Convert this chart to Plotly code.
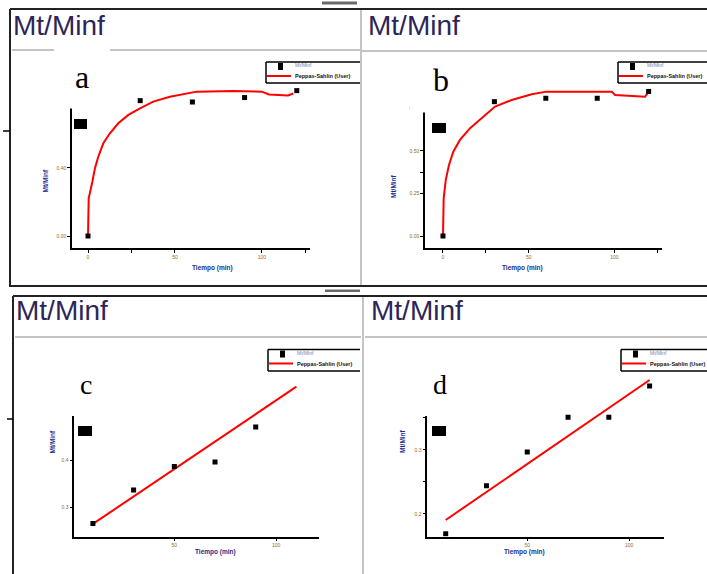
import plotly.graph_objects as go

# ---------------- data ----------------
time_a = [0, 30, 60, 90, 120]
mtminf_a = [0.0, 0.796, 0.788, 0.814, 0.855]
fit_time_a = [0, 0.4, 2.5, 4.0, 5.9, 8.8, 12.6, 17.4, 23.2, 29.9, 37.5, 47.1, 62.5, 83.5, 100, 104, 115, 118]
fit_a = [0, 0.222, 0.319, 0.398, 0.466, 0.545, 0.604, 0.663, 0.712, 0.751, 0.79, 0.819, 0.849, 0.853, 0.849, 0.832, 0.826, 0.838]

time_b = [0, 30, 60, 90, 120]
mtminf_b = [0.0, 0.79, 0.81, 0.81, 0.85]
fit_time_b = [0, 0.4, 1.6, 3.5, 6.0, 9.9, 15.8, 22.6, 30.4, 40.1, 51.8, 60.5, 98.5, 100.4, 112.1, 117.9, 119.3]
fit_b = [0, 0.222, 0.329, 0.418, 0.496, 0.565, 0.634, 0.692, 0.761, 0.80, 0.834, 0.849, 0.849, 0.829, 0.824, 0.819, 0.839]

time_c = [10, 30, 50, 70, 90]
mtminf_c = [0.265, 0.336, 0.386, 0.396, 0.470]
fit_time_c = [10, 110]
fit_c = [0.264, 0.556]

time_d = [10, 30, 50, 70, 90, 110]
mtminf_d = [0.169, 0.244, 0.297, 0.351, 0.351, 0.40]
fit_time_d = [10, 110]
fit_d = [0.1906, 0.4094]

xticks_ab = [0, 50, 100]
xticks_cd = [50, 100]
yticks_a = [0.0, 0.4, 0.8]
yticklabels_a = ["0.00", "0.40", "0.80"]
yticks_b = [0.0, 0.25, 0.5, 0.75]
yticklabels_b = ["0.00", "0.25", "0.50", "0.75"]
yticks_c = [0.3, 0.4, 0.5, 0.6]
yticklabels_c = ["0.3", "0.4", "0.5", "0.6"]
yticks_d = [0.2, 0.3, 0.4]
yticklabels_d = ["0.2", "0.3", "0.4"]

panel_letters = ["a", "b", "c", "d"]
header_text = "Mt/Minf"
xlabel = "Tiempo (min)"
ylabel = "Mt/Minf"
legend_data = "Mt/Minf"
legend_fit = "Peppas-Sahlin (User)"

# ---------------- layout helpers ----------------
W, H = 707, 574


def fx(p):
    return p / W


def fy(p):
    return 1 - p / H


TICKC = "#93661f"
TITLEC = "#1c2c8c"
HEADC = "#2c2558"

fig = go.Figure()

panels = [
    dict(ax="", box=(72, 310, 85, 248), xr=(-9.2, 127.6), yr=(-0.0706, 0.888),
         t=time_a, v=mtminf_a, ft=fit_time_a, fv=fit_a,
         xt=xticks_ab, xminor=[25, 125], yt=yticks_a, ytl=yticklabels_a, yminor=None),
    dict(ax="2", box=(425, 662, 85, 248), xr=(-10.5, 127.8), yr=(-0.0706, 0.888),
         t=time_b, v=mtminf_b, ft=fit_time_b, fv=fit_b,
         xt=xticks_ab, xminor=[25, 125], yt=yticks_b, ytl=yticklabels_b, yminor=[0.375]),
    dict(ax="3", box=(74.3, 319, 360, 536.7), xr=(0.85, 121.1), yr=(0.2368, 0.6128),
         t=time_c, v=mtminf_c, ft=fit_time_c, fv=fit_c,
         xt=xticks_cd, xminor=None, yt=yticks_c, ytl=yticklabels_c, yminor=None),
    dict(ax="4", box=(427.3, 664.3, 360, 536.7), xr=(0.98, 117.2), yr=(0.1645, 0.4406),
         t=time_d, v=mtminf_d, ft=fit_time_d, fv=fit_d,
         xt=xticks_cd, xminor=None, yt=yticks_d, ytl=yticklabels_d, yminor=[0.25, 0.35]),
]

for p in panels:
    xa = "x" + p["ax"]
    ya = "y" + p["ax"]
    fig.add_trace(go.Scatter(x=p["ft"], y=p["fv"], mode="lines",
                             line=dict(color="#ff0000", width=2),
                             xaxis=xa, yaxis=ya, showlegend=False, hoverinfo="skip"))
    fig.add_trace(go.Scatter(x=p["t"], y=p["v"], mode="markers",
                             marker=dict(symbol="square", size=5, color="black"),
                             xaxis=xa, yaxis=ya, showlegend=False, cliponaxis=True))
    x0, x1, ytop, ybot = p["box"]
    common = dict(showline=True, linecolor="black", linewidth=1.5, ticks="outside",
                  ticklen=3, tickwidth=1, tickcolor="black", showgrid=False,
                  zeroline=False, tickfont=dict(family="Liberation Sans", size=5, color=TICKC))
    xdict = dict(common, domain=[fx(x0), fx(x1)], range=list(p["xr"]), anchor=ya,
                 tickmode="array", tickvals=p["xt"], ticktext=[str(v) for v in p["xt"]])
    if p["xminor"]:
        xdict["minor"] = dict(tickmode="array", tickvals=p["xminor"], ticks="outside",
                              ticklen=3, tickcolor="black", tickwidth=1, showgrid=False)
    ydict = dict(common, domain=[fy(ybot), fy(ytop)], range=list(p["yr"]), anchor=xa,
                 tickmode="array", tickvals=p["yt"], ticktext=p["ytl"])
    if p["yminor"]:
        ydict["minor"] = dict(tickmode="array", tickvals=p["yminor"], ticks="outside",
                              ticklen=3, tickcolor="black", tickwidth=1, showgrid=False)
    key = p["ax"]
    fig.update_layout(**{"xaxis" + key: xdict, "yaxis" + key: ydict})

shapes = []


def line(x0, y0, x1, y1, color="black", width=2):
    shapes.append(dict(type="line", xref="paper", yref="paper", x0=fx(x0), y0=fy(y0),
                       x1=fx(x1), y1=fy(y1), line=dict(color=color, width=width), layer="above"))


def rect(x0, y0, x1, y1, fill, lc=None, lw=0):
    shapes.append(dict(type="rect", xref="paper", yref="paper", x0=fx(x0), y0=fy(y0),
                       x1=fx(x1), y1=fy(y1), fillcolor=fill,
                       line=dict(color=lc or fill, width=lw), layer="above"))


# frames
GRAY = "#c4c4c4"
line(10, 9, 707, 9, "#222", 2)
line(10, 9, 10, 287, "#222", 2)
line(10, 286, 707, 286, "#222", 2)
line(13, 296, 707, 296, "#222", 2)
line(13, 296, 13, 574, "#222", 2)
line(361, 10, 361, 285, GRAY, 2)
line(363, 297, 363, 574, GRAY, 2)
# header separators
line(12, 50, 360, 50, GRAY, 2)
line(362, 51, 707, 51, GRAY, 2)
line(15, 337, 361, 337, GRAY, 2)
line(365, 337, 707, 337, GRAY, 2)
# small gray handle bars
rect(322, 1.5, 357, 4.5, "#6a6a6a")
rect(325, 289.5, 360, 292, "#6a6a6a")
# left edge tick marks
line(3, 131, 10, 131, "black", 1.5)
line(7, 419, 13, 419, "black", 1.5)

# white patches behind letters
rect(54, 48, 110, 108.5, "white")
rect(410, 53, 470, 112.5, "white")
rect(59, 340, 115, 416, "white")
rect(411, 340, 470, 416, "white")
# black blocks
rect(74, 119, 87, 129, "black")
rect(432, 123, 446, 133, "black")
rect(78, 426, 92, 436, "black")
rect(432, 426, 446, 436, "black")

# legends (top, left, bottom borders; right side clipped)
legends = [(266, 360, 62, 83), (618, 707, 62, 83), (268, 360, 349.5, 371), (621, 707, 349.5, 371)]
annotations = []
for (lx0, lx1, lyt, lyb) in legends:
    rect(lx0, lyt, lx1, lyb, "white")
    line(lx0, lyt, lx1, lyt, "black", 1.5)
    line(lx0, lyt, lx0, lyb, "black", 1.5)
    line(lx0, lyb, lx1, lyb, "black", 1.5)
    rect(lx0 + 12, lyt + 1, lx0 + 17, lyt + 8, "black")
    line(lx0 + 1, lyt + 14, lx0 + 25, lyt + 14, "#ff0000", 2)
    annotations.append(dict(x=fx(lx0 + 27), y=fy(lyt + 3), xref="paper", yref="paper",
                            text=legend_data, showarrow=False, xanchor="left", yanchor="middle",
                            font=dict(family="Liberation Sans", size=5, color="#7585b5")))
    annotations.append(dict(x=fx(lx0 + 27), y=fy(lyt + 14), xref="paper", yref="paper",
                            text="<b>" + legend_fit + "</b>", showarrow=False, xanchor="left",
                            yanchor="middle",
                            font=dict(family="Liberation Sans", size=5.5, color="#111")))

# headers
for (hx, hy) in [(11, 26), (366, 26), (14, 310), (369, 310)]:
    annotations.append(dict(x=fx(hx), y=fy(hy), xref="paper", yref="paper", text=header_text,
                            showarrow=False, xanchor="left", yanchor="middle",
                            font=dict(family="Liberation Sans", size=28, color=HEADC)))

# panel letters
for letter, (lx, ly, ls) in zip(panel_letters, [(81.5, 77, 32), (440.5, 80, 32), (85.5, 384, 28), (440, 384, 28)]):
    annotations.append(dict(x=fx(lx), y=fy(ly), xref="paper", yref="paper", text=letter,
                            showarrow=False, xanchor="center", yanchor="middle",
                            font=dict(family="Liberation Serif", size=ls, color="black")))

# axis titles
for (xx, xy) in [(190, 268), (545, 268), (193, 558), (547, 558)]:
    annotations.append(dict(x=fx(xx), y=fy(xy), xref="paper", yref="paper",
                            text="<b>" + xlabel + "</b>", showarrow=False,
                            font=dict(family="Liberation Sans", size=6.5, color=TITLEC)))
for (yx, yy) in [(40, 167), (393, 172), (46, 456), (402, 455)]:
    annotations.append(dict(x=fx(yx), y=fy(yy), xref="paper", yref="paper",
                            text="<b>" + ylabel + "</b>", showarrow=False, textangle=-90,
                            font=dict(family="Liberation Sans", size=6.5, color=TITLEC)))

fig.update_layout(width=W, height=H, margin=dict(l=0, r=0, t=0, b=0),
                  paper_bgcolor="white", plot_bgcolor="white",
                  shapes=shapes, annotations=annotations, showlegend=False)

fig.write_html("out.html")
